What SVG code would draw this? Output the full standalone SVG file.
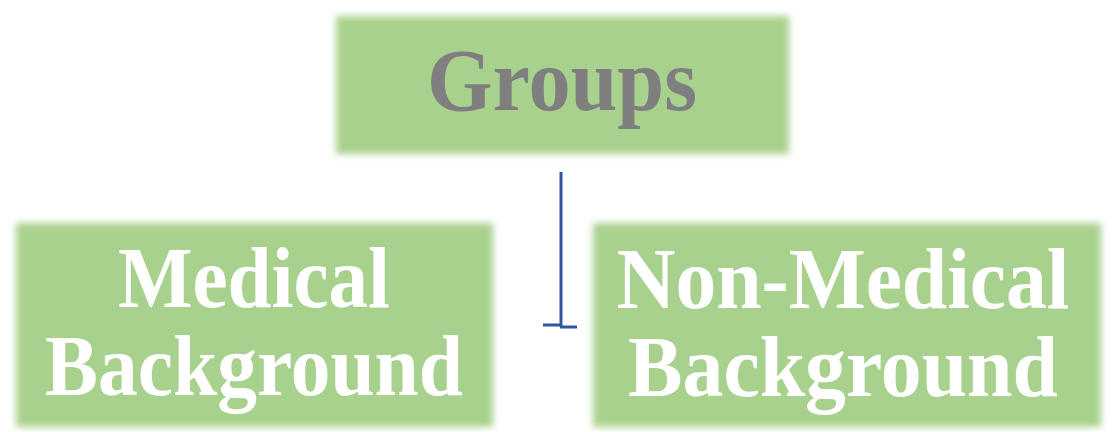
<svg xmlns="http://www.w3.org/2000/svg" width="1113" height="432" viewBox="0 0 1113 432">
  <defs>
    <filter id="soft" x="-5%" y="-10%" width="110%" height="120%">
      <feGaussianBlur stdDeviation="3.5"/>
    </filter>
  </defs>
  <style>
    .box { fill: #a9d18e; filter: url(#soft); }
    .t { font-family: "Liberation Serif", "Times New Roman", serif; font-weight: bold; text-anchor: middle; }
    .title { fill: #7f7f7f; font-size: 88px; }
    .lbl { fill: #ffffff; font-size: 87px; }
    .conn { stroke: #2f55a4; stroke-width: 3; fill: none; }
  </style>
  <rect width="1113" height="432" fill="#ffffff"/>
  <g id="connectors">
    <line class="conn" x1="561" y1="172" x2="561" y2="327"/>
    <line class="conn" x1="543" y1="325" x2="562" y2="325"/>
    <line class="conn" x1="560" y1="327" x2="577" y2="327"/>
  </g>
  <g id="groups">
    <rect class="box" x="336" y="16" width="453" height="138"/>
    <text class="t title" x="562" y="110" textLength="270" lengthAdjust="spacingAndGlyphs">Groups</text>
  </g>
  <g id="medical">
    <rect class="box" x="16" y="223" width="477" height="204"/>
    <text class="t lbl" x="254" y="307" textLength="272" lengthAdjust="spacingAndGlyphs">Medical</text>
    <text class="t lbl" x="254" y="395" textLength="418" lengthAdjust="spacingAndGlyphs">Background</text>
  </g>
  <g id="non-medical">
    <rect class="box" x="593" y="223" width="508" height="204"/>
    <text class="t lbl" x="843" y="308" textLength="453" lengthAdjust="spacingAndGlyphs">Non-Medical</text>
    <text class="t lbl" x="843" y="396" textLength="430" lengthAdjust="spacingAndGlyphs">Background</text>
  </g>
</svg>
